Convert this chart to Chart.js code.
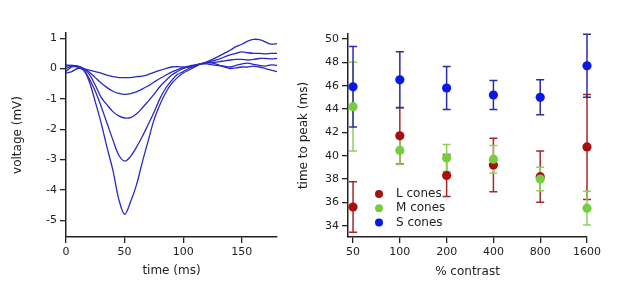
<!DOCTYPE html>
<html>
<head>
<meta charset="utf-8">
<script src="https://cdn.jsdelivr.net/npm/chart.js@4"></script>
<style>
  html, body { margin: 0; padding: 0; background: #fff; }
  #wrap { position: relative; width: 617px; height: 295px; }
  #voltChart { position: absolute; left: 0; top: 0; }
  #peakChart { position: absolute; left: 290px; top: 0; }
</style>
</head>
<body>
<div id="wrap">
  <canvas id="voltChart" width="300" height="295"></canvas>
  <canvas id="peakChart" width="327" height="295"></canvas>
</div>
<script>
// left panel: voltage traces, sampled every 5 ms
const timeMs = [0,5,10,15,20,25,30,35,40,45,50,55,60,65,70,75,80,85,90,95,100,105,110,115,120,125,130,135,140,145,150,155,160,165,170,175,180];
const traceA = [-0.15,-0.1,0.0,-0.05,-0.45,-1.1,-1.8,-2.6,-3.35,-4.3,-4.8,-4.4,-3.85,-3.1,-2.4,-1.7,-1.2,-0.8,-0.5,-0.3,-0.15,-0.05,0.05,0.15,0.22,0.3,0.4,0.5,0.6,0.72,0.8,0.9,0.96,0.95,0.88,0.8,0.82];
const traceB = [-0.1,0.05,0.05,-0.05,-0.35,-0.75,-1.25,-1.8,-2.35,-2.85,-3.05,-2.9,-2.6,-2.25,-1.85,-1.45,-1.0,-0.65,-0.4,-0.2,-0.1,0.0,0.08,0.15,0.2,0.25,0.3,0.38,0.45,0.5,0.55,0.52,0.5,0.5,0.48,0.5,0.5];
const traceC = [0.0,0.08,0.08,0.0,-0.2,-0.55,-0.95,-1.2,-1.42,-1.56,-1.63,-1.62,-1.5,-1.3,-1.08,-0.85,-0.6,-0.4,-0.22,-0.1,0.0,0.05,0.1,0.15,0.18,0.2,0.22,0.25,0.28,0.3,0.3,0.28,0.3,0.33,0.33,0.32,0.33];
const traceD = [0.08,0.1,0.08,0.0,-0.12,-0.3,-0.48,-0.63,-0.75,-0.82,-0.85,-0.83,-0.77,-0.68,-0.57,-0.45,-0.33,-0.22,-0.12,-0.04,0.02,0.06,0.1,0.15,0.15,0.12,0.1,0.08,0.05,0.1,0.15,0.18,0.14,0.1,0.08,0.12,0.1];
const traceE = [0.12,0.1,0.06,0.0,-0.05,-0.1,-0.15,-0.22,-0.27,-0.3,-0.3,-0.3,-0.27,-0.25,-0.2,-0.13,-0.06,0.0,0.05,0.06,0.05,0.08,0.12,0.15,0.2,0.18,0.12,0.05,0.0,0.02,0.05,0.05,0.08,0.05,0.0,-0.05,-0.1];
const timeTicks = [0, 50, 100, 150];
const voltTicks = [-5, -4, -3, -2, -1, 0, 1];

// right panel: time to peak vs contrast
const contrast = [50, 100, 200, 400, 800, 1600];
const lCones = [35.6, 41.7, 38.3, 39.2, 38.2, 40.75];
const lErr   = [2.17, 2.42, 1.8, 2.3, 2.2, 4.5];
const mCones = [44.2, 40.45, 39.8, 39.7, 38.0, 35.5];
const mErr   = [3.8, 1.2, 1.15, 1.18, 1.0, 1.45];
const sCones = [45.9, 46.5, 45.8, 45.2, 45.0, 47.7];
const sErr   = [3.45, 2.4, 1.85, 1.25, 1.5, 2.7];
const peakTicks = [34, 36, 38, 40, 42, 44, 46, 48, 50];

const FONT = 'DejaVu Sans';
const INK = '#222';

function axisStyle(extra) {
    return Object.assign({
        grid: { display: true, drawOnChartArea: false, drawTicks: true, tickLength: 6, color: INK, lineWidth: 1.3 },
        border: { display: true, color: INK, width: 1.5 },
        ticks: { color: INK, font: { family: FONT, size: 11 }, maxRotation: 0, autoSkip: false, callback: v => String(v) }
    }, extra);
}

// ---- left chart
const traceColour = '#2a2ac0';
const traces = [traceA, traceB, traceC, traceD, traceE];

new Chart(document.getElementById('voltChart'), {
    type: 'line',
    data: {
        datasets: traces.map(tr => ({
            data: tr.map((v, i) => ({ x: timeMs[i], y: v })),
            borderColor: traceColour,
            borderWidth: 1.3,
            pointRadius: 0,
            tension: 0.35,
            fill: false
        }))
    },
    options: {
        responsive: false,
        animation: false,
        layout: { padding: { left: 0, right: 23, top: 33, bottom: 0 } },
        plugins: { legend: { display: false }, tooltip: { enabled: false } },
        scales: {
            x: axisStyle({
                type: 'linear', min: 0, max: 180,
                afterBuildTicks: s => { s.ticks = timeTicks.map(v => ({ value: v })); },
                afterFit: s => { s.height = 58; },
                title: { display: true, text: 'time (ms)', color: INK, font: { family: FONT, size: 12 }, padding: { top: 0, bottom: 17 } }
            }),
            y: axisStyle({
                type: 'linear', min: -5.55, max: 1.17,
                afterBuildTicks: s => { s.ticks = voltTicks.map(v => ({ value: v })); },
                afterFit: s => { s.width = 66; },
                title: { display: true, text: 'voltage (mV)', color: INK, font: { family: FONT, size: 12 }, padding: { top: 11, bottom: 0 } }
            })
        }
    }
});

// ---- right chart
// error bars drawn under the points
const errorBars = {
    id: 'errorBars',
    beforeDatasetsDraw(chart) {
        const { ctx, scales: { x, y } } = chart;
        chart.data.datasets.slice().sort((a, b) => b.order - a.order).forEach(ds => {
            ctx.save();
            ctx.strokeStyle = ds.errorColor;
            ctx.lineWidth = 1.5;
            ds.data.forEach((pt, j) => {
                const px = x.getPixelForValue(pt.x);
                const top = y.getPixelForValue(pt.y + ds.errors[j]);
                const bot = y.getPixelForValue(pt.y - ds.errors[j]);
                ctx.beginPath();
                ctx.moveTo(px, top); ctx.lineTo(px, bot);
                ctx.moveTo(px - 4, top); ctx.lineTo(px + 4, top);
                ctx.moveTo(px - 4, bot); ctx.lineTo(px + 4, bot);
                ctx.stroke();
            });
            ctx.restore();
        });
    }
};

// legend sits inside the plot, lower left
const insideLegend = {
    id: 'insideLegend',
    afterDraw(chart) {
        const { ctx, chartArea } = chart;
        const x0 = chartArea.left + 31;
        const y0 = 194;
        ctx.save();
        ctx.font = '12px "' + FONT + '"';
        ctx.textBaseline = 'middle';
        chart.data.datasets.forEach((ds, i) => {
            const yy = y0 + i * 14.3;
            ctx.fillStyle = ds.backgroundColor;
            ctx.beginPath();
            ctx.arc(x0, yy, 4, 0, Math.PI * 2);
            ctx.fill();
            ctx.fillStyle = INK;
            ctx.fillText(ds.label, x0 + 17, yy);
        });
        ctx.restore();
    }
};

function coneSet(label, values, errs, colour, errColour, order) {
    return {
        label: label,
        data: values.map((v, i) => ({ x: contrast[i], y: v })),
        errors: errs,
        errorColor: errColour,
        backgroundColor: colour,
        borderColor: colour,
        pointRadius: 4.6,
        pointBorderWidth: 0,
        showLine: false,
        clip: false,
        order: order
    };
}

new Chart(document.getElementById('peakChart'), {
    type: 'scatter',
    data: {
        datasets: [
            coneSet('L cones', lCones, lErr, '#a8100e', '#a52828', 3),
            coneSet('M cones', mCones, mErr, '#78cc40', '#8fd05a', 2),
            coneSet('S cones', sCones, sErr, '#0a18e6', '#2c2ca8', 1)
        ]
    },
    options: {
        responsive: false,
        animation: false,
        layout: { padding: { left: 0, right: 30, top: 34, bottom: 0 } },
        plugins: { legend: { display: false }, tooltip: { enabled: false } },
        scales: {
            x: axisStyle({
                type: 'logarithmic', min: 46.4, max: 1600,
                afterBuildTicks: s => { s.ticks = contrast.map(v => ({ value: v })); },
                afterFit: s => { s.height = 58; },
                title: { display: true, text: '% contrast', color: INK, font: { family: FONT, size: 12 }, padding: { top: 0, bottom: 16 } }
            }),
            y: axisStyle({
                type: 'linear', min: 33.03, max: 50.43,
                afterBuildTicks: s => { s.ticks = peakTicks.map(v => ({ value: v })); },
                afterFit: s => { s.width = 58; },
                title: { display: true, text: 'time to peak (ms)', color: INK, font: { family: FONT, size: 12 }, padding: { top: 7, bottom: 0 } }
            })
        }
    },
    plugins: [errorBars, insideLegend]
});
</script>
</body>
</html>
